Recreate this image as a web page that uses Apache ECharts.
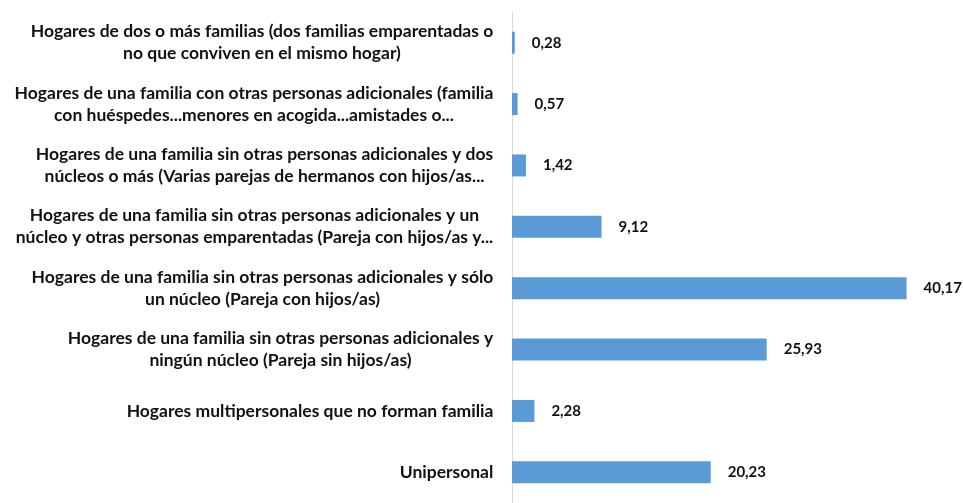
<!DOCTYPE html>
<html><head><meta charset="utf-8">
<script src="https://cdn.jsdelivr.net/npm/echarts@6/dist/echarts.min.js"></script>
<style>html,body{margin:0;padding:0;background:#fff}#c{width:963px;height:503px}</style>
</head><body><div id="c"></div>
<script>
const categories = [
  "Hogares de dos o más familias (dos familias emparentadas o\nno que conviven en el mismo hogar)",
  "Hogares de una familia con otras personas adicionales (familia\ncon huéspedes...menores en acogida...amistades o...",
  "Hogares de una familia sin otras personas adicionales y dos\nnúcleos o más (Varias parejas de hermanos con hijos/as...",
  "Hogares de una familia sin otras personas adicionales y un\nnúcleo y otras personas emparentadas (Pareja con hijos/as y...",
  "Hogares de una familia sin otras personas adicionales y sólo\nun núcleo (Pareja con hijos/as)",
  "Hogares de una familia sin otras personas adicionales y\nningún núcleo (Pareja sin hijos/as)",
  "Hogares multipersonales que no forman familia",
  "Unipersonal"
];
const values = [0.28, 0.57, 1.42, 9.12, 40.17, 25.93, 2.28, 20.23];

const FONT_SIZE = 17.5;
const ctx = document.createElement('canvas').getContext('2d');
ctx.font = 'bold ' + FONT_SIZE + 'px Lato';
const rich = {};
categories.forEach((c, i) => {
  const w = Math.max(...c.split('\n').map(s => ctx.measureText(s).width));
  rich['l' + i] = {width: Math.ceil(w) + 1, align: 'center', fontFamily: 'Lato', fontWeight: 'bold',
                   fontSize: FONT_SIZE, lineHeight: 22, color: '#111'};
});

const chart = echarts.init(document.getElementById('c'));
chart.setOption({
  animation: false,
  grid: {left: 512, right: 9, top: 12, height: 500, containLabel: false},
  xAxis: {type: 'value', min: 0, max: 45, show: false},
  yAxis: {
    type: 'category', data: categories, inverse: true,
    axisLine: {show: true, lineStyle: {color: '#d9d9d9', width: 1}},
    axisTick: {show: false},
    axisLabel: {
      margin: 18, color: '#111',
      fontFamily: 'Lato', fontWeight: 'bold', fontSize: FONT_SIZE, lineHeight: 22,
      formatter: (v, i) => v.split('\n').map(s => '{l' + i + '|' + s + '}').join('\n'),
      rich: rich
    }
  },
  series: [{
    type: 'bar', data: values, barWidth: 22,
    itemStyle: {color: '#5b9bd5'},
    label: {
      show: true, position: 'right', distance: 17, color: '#111',
      fontFamily: 'Lato', fontWeight: 'bold', fontSize: 15,
      formatter: p => p.value.toFixed(2).replace('.', ',')
    }
  }]
});
</script></body></html>
